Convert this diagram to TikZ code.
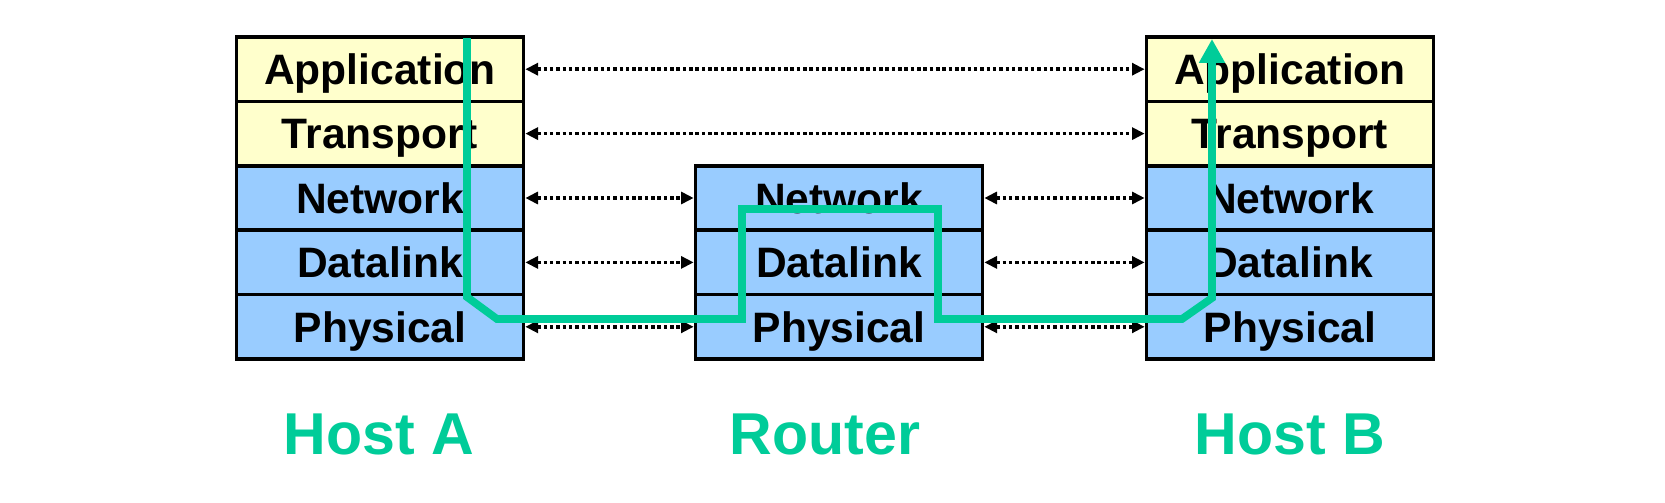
\documentclass[tikz,border=0pt]{standalone}
\usepackage{fontspec}
\setmainfont{Liberation Sans}
\usetikzlibrary{arrows.meta,calc}
\definecolor{lyel}{HTML}{FFFFCC}
\definecolor{lblu}{HTML}{99CCFF}
\definecolor{grn}{HTML}{00CC99}
\begin{document}
\begin{tikzpicture}[x=0.01cm,y=-0.01cm,
  layer/.style={draw=black, line width=1pt, minimum width=2.87cm, minimum height=0.644cm,
    inner sep=0pt, text height=0.306cm, text depth=0pt,
    font=\fontsize{12.1pt}{14pt}\selectfont\bfseries},
  upper/.style={layer, fill=lyel},
  lower/.style={layer, fill=lblu},
  dotarrow/.style={line width=1pt, dash pattern=on 1pt off 0.8pt,
    {Triangle[length=3.6pt,width=3.4pt]}-{Triangle[length=3.6pt,width=3.4pt]}},
  hostlabel/.style={anchor=base, text=grn, font=\fontsize{16.8pt}{19pt}\selectfont\bfseries},
  flow/.style={draw=grn, line width=2.2pt, line join=miter, -{Triangle[length=6.8pt,width=7pt]}}
]
\useasboundingbox (0,0) rectangle (1665,503);
\fill[white] (0,0) rectangle (1665,503);

% Host A
\node[upper] (A1) at (380,69.2) {Application};
\node[upper] (A2) at (380,133.6) {Transport};
\node[lower] (A3) at (380,198) {Network};
\node[lower] (A4) at (380,262.4) {Datalink};
\node[lower] (A5) at (380,326.8) {Physical};
% Router
\node[lower] (R3) at (839,198) {Network};
\node[lower] (R4) at (839,262.4) {Datalink};
\node[lower] (R5) at (839,326.8) {Physical};
% Host B
\node[upper] (B1) at (1290,69.2) {Application};
\node[upper] (B2) at (1290,133.6) {Transport};
\node[lower] (B3) at (1290,198) {Network};
\node[lower] (B4) at (1290,262.4) {Datalink};
\node[lower] (B5) at (1290,326.8) {Physical};

% peer arrows
\draw[dotarrow] (A1.east) -- (B1.west);
\draw[dotarrow] (A2.east) -- (B2.west);
\draw[dotarrow] (A3.east) -- (R3.west);
\draw[dotarrow] (A4.east) -- (R4.west);
\draw[dotarrow] (A5.east) -- (R5.west);
\draw[dotarrow] (R3.east) -- (B3.west);
\draw[dotarrow] (R4.east) -- (B4.west);
\draw[dotarrow] (R5.east) -- (B5.west);

% data flow
\coordinate (gs) at (467,38);
\coordinate (ge) at (1212,39);
\draw[flow] (gs) -- (467,297) -- (497,319) -- (742,319) -- (742,209) -- (938,209)
  -- (938,319) -- (1182,319) -- (1212,298) -- (ge);

% labels
\node[hostlabel] (LA) at (379,454) {Host A};
\node[hostlabel] (LR) at (825,454) {Router};
\node[hostlabel] (LB) at (1290,454) {Host B};
\end{tikzpicture}
\end{document}
